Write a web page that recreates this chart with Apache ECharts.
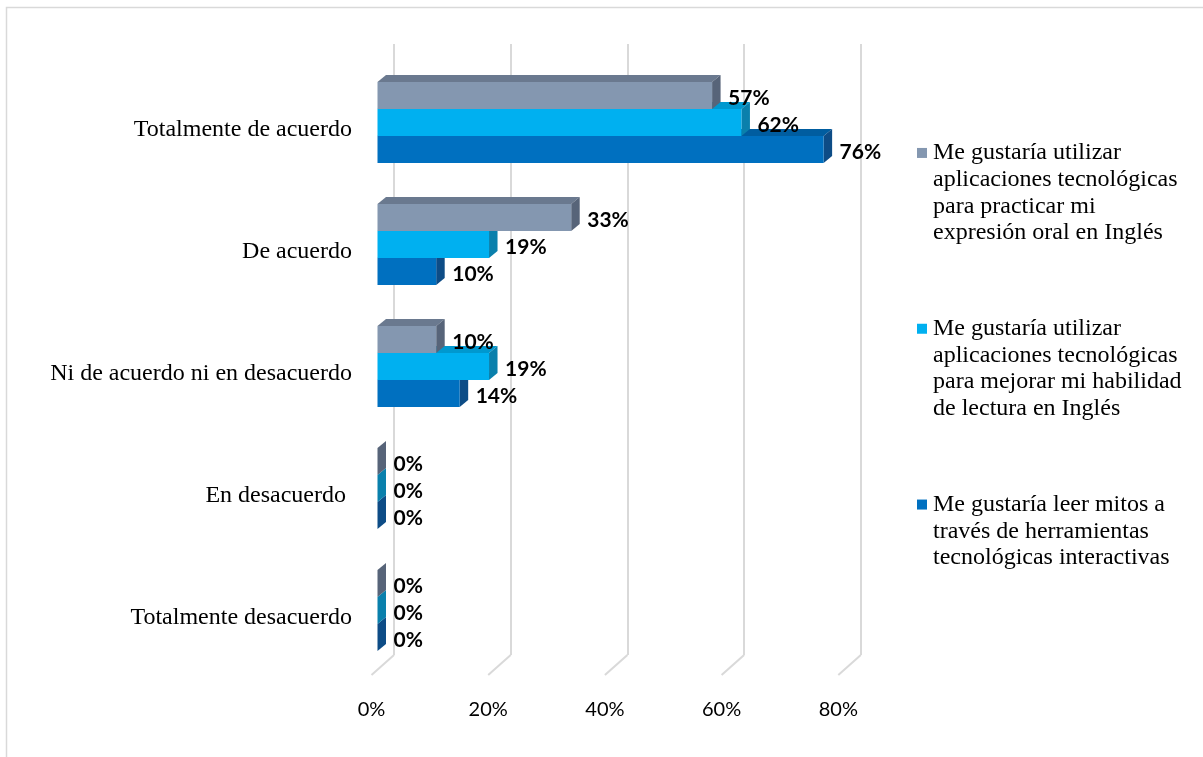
<!DOCTYPE html>
<html>
<head>
<meta charset="utf-8">
<script src="https://cdn.jsdelivr.net/npm/echarts/dist/echarts.min.js"></script>
<style>
  html, body { margin: 0; padding: 0; background: #ffffff; }
  #chart { width: 1203px; height: 757px; }
</style>
</head>
<body>
<div id="chart"></div>
<script>
// Response categories (top to bottom)
const categories = [
  'Totalmente de acuerdo',
  'De acuerdo',
  'Ni de acuerdo ni en desacuerdo',
  'En desacuerdo ',
  'Totalmente desacuerdo'
];

// Percentages per statement
const expresionOral = [57, 33, 10, 0, 0];
const lecturaIngles = [62, 19, 19, 0, 0];
const mitosInteractivos = [76, 10, 14, 0, 0];

// Value axis ticks (percent)
const xTicks = [0, 20, 40, 60, 80];

// Legend text, one entry per line
const legendLines = [
  ['Me gustaría utilizar', 'aplicaciones tecnológicas', 'para practicar mi', 'expresión oral en Inglés'],
  ['Me gustaría utilizar', 'aplicaciones tecnológicas', 'para mejorar mi habilidad', 'de lectura en Inglés'],
  ['Me gustaría leer mitos a', 'través de herramientas', 'tecnológicas interactivas']
];
const seriesNames = legendLines.map(l => l.join(' '));
const seriesValues = [expresionOral, lecturaIngles, mitosInteractivos];

// Face colours: front, top, side
const palette = [
  { front: '#8497B0', top: '#6A798F', side: '#576479' },
  { front: '#00B0F0', top: '#0098CF', side: '#0A80AC' },
  { front: '#0070C0', top: '#005DA0', side: '#0D4C86' }
];

const DEPTH_X = 8.5;
const DEPTH_Y = -7;

function barRenderer(s) {
  const c = palette[s];
  return function (params, api) {
    const v = api.value(0);
    const cat = api.value(1);
    const start = api.coord([0, cat]);
    const end = api.coord([v, cat]);
    const band = api.size([0, 1])[1];
    const bh = band * 27 / 122;
    const y0 = start[1] - 1.5 * bh + s * bh;
    const y1 = y0 + bh;
    const x0 = start[0];
    const x1 = end[0];
    return {
      type: 'group',
      children: [
        {
          type: 'polygon',
          shape: { points: [[x0, y0], [x0 + DEPTH_X, y0 + DEPTH_Y], [x1 + DEPTH_X, y0 + DEPTH_Y], [x1, y0]] },
          style: { fill: c.top }
        },
        {
          type: 'polygon',
          shape: { points: [[x1, y0], [x1 + DEPTH_X, y0 + DEPTH_Y], [x1 + DEPTH_X, y1 + DEPTH_Y], [x1, y1]] },
          style: { fill: c.side }
        },
        {
          type: 'rect',
          shape: { x: x0, y: y0, width: x1 - x0, height: bh },
          style: { fill: c.front }
        },
        {
          type: 'text',
          style: {
            text: v + '%',
            x: x1 + 16,
            y: (y0 + y1) / 2 + 3,
            verticalAlign: 'middle',
            align: 'left',
            font: 'bold 21px Lato',
            fill: '#000000'
          }
        }
      ]
    };
  };
}

const rich = {
  gap: { width: 6, lineHeight: 26.7 },
  ind: { width: 16, lineHeight: 26.7 }
};
palette.forEach((c, i) => {
  rich['sq' + i] = { width: 10, height: 10, backgroundColor: c.front, lineHeight: 26.7 };
});

const chart = echarts.init(document.getElementById('chart'), null, { renderer: 'canvas' });

chart.setOption({
  animation: false,
  backgroundColor: '#ffffff',
  graphic: [{
    type: 'rect',
    silent: true,
    z: -10,
    shape: { x: 6.5, y: 7.5, width: 1400, height: 900 },
    style: { fill: 'none', stroke: '#d9d9d9', lineWidth: 1.5 }
  }],
  legend: {
    data: seriesNames,
    orient: 'vertical',
    left: 912,
    top: 139.6,
    padding: 0,
    itemGap: 69,
    itemWidth: 0,
    itemHeight: 0,
    icon: 'none',
    selectedMode: false,
    formatter: function (name) {
      const i = seriesNames.indexOf(name);
      const lines = legendLines[i];
      return '{sq' + i + '| }{gap| }' + lines[0] + '\n' +
        lines.slice(1).map(l => '{ind| }' + l).join('\n');
    },
    textStyle: {
      fontFamily: 'Liberation Serif',
      fontSize: 24,
      lineHeight: 26.7,
      color: '#000000',
      rich: rich
    }
  },
  grid: [
    // front plane of the bars
    { left: 377.5, top: 61.5, width: 469.6, height: 610, containLabel: false },
    // back wall with the gridlines
    { left: 394, top: 44, width: 466.8, height: 611, containLabel: false }
  ],
  xAxis: [
    { gridIndex: 0, type: 'value', min: 0, max: 80, show: false },
    {
      gridIndex: 1, type: 'value', min: 0, max: 80, interval: 20, position: 'bottom',
      axisLine: { show: false },
      axisTick: { show: false },
      splitLine: { show: true, lineStyle: { color: '#d9d9d9', width: 2 } },
      axisLabel: {
        formatter: '{value}%',
        margin: 45,
        padding: [0, 45, 0, 0],
        fontFamily: 'Lato',
        fontSize: 20,
        color: '#000000'
      }
    }
  ],
  yAxis: [
    {
      gridIndex: 0, type: 'category', inverse: true, data: categories,
      axisLine: { show: false },
      axisTick: { show: false },
      splitLine: { show: false },
      axisLabel: {
        margin: 25.5,
        verticalAlign: 'top',
        lineHeight: 14,
        fontFamily: 'Liberation Serif',
        fontSize: 24,
        color: '#000000'
      }
    },
    { gridIndex: 1, type: 'value', min: 0, max: 1, show: false }
  ],
  series: [
    // floor segments running forward from each gridline
    {
      type: 'custom',
      xAxisIndex: 1,
      yAxisIndex: 1,
      silent: true,
      z: 1,
      data: xTicks.map(t => [t, 0]),
      renderItem: function (params, api) {
        const p = api.coord([api.value(0), api.value(1)]);
        return {
          type: 'line',
          shape: { x1: p[0], y1: p[1], x2: p[0] - 22.5, y2: p[1] + 20 },
          style: { stroke: '#d9d9d9', lineWidth: 2 }
        };
      }
    }
  ].concat(seriesNames.map((name, s) => ({
    name: name,
    type: 'custom',
    xAxisIndex: 0,
    yAxisIndex: 0,
    z: 5 - s,
    itemStyle: { color: palette[s].front },
    encode: { x: 0, y: 1 },
    data: seriesValues[s].map((v, i) => [v, i]),
    renderItem: barRenderer(s)
  })))
});
</script>
</body>
</html>
